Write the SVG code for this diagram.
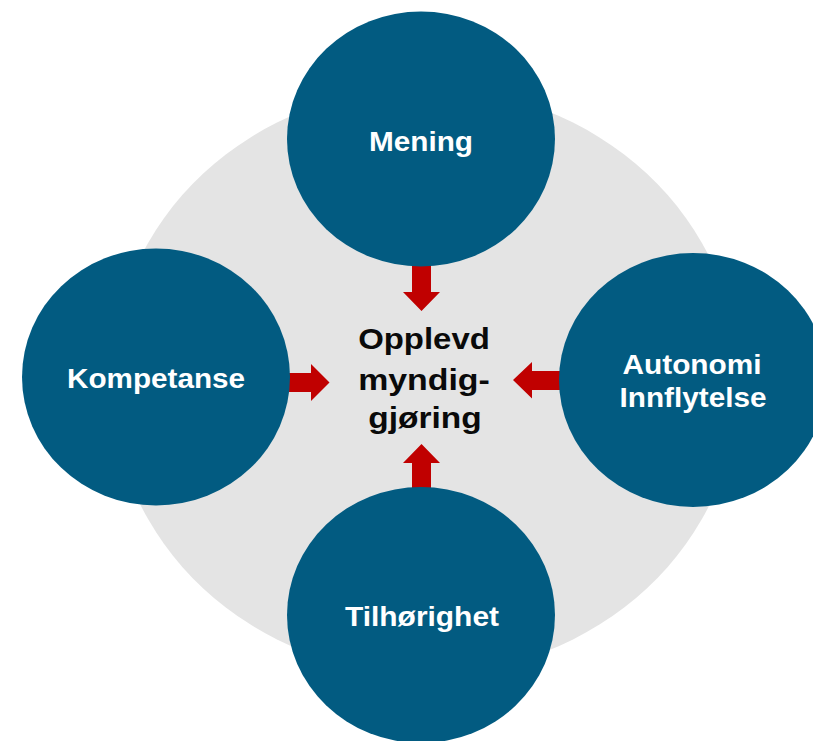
<svg xmlns="http://www.w3.org/2000/svg" width="813" height="741" viewBox="0 0 813 741">
  <style>
    .node { fill: #025B81; }
    .lbl { font-family: "Liberation Sans", Arial, sans-serif; font-weight: bold; font-size: 28px; fill: #FFFFFF; text-anchor: middle; }
    .ctr { font-family: "Liberation Sans", Arial, sans-serif; font-weight: bold; font-size: 30px; fill: #0A0A0A; text-anchor: middle; }
    .arrow { fill: #C00000; }
  </style>
  <rect x="0" y="0" width="813" height="741" fill="#FFFFFF"/>
  <g id="background">
    <ellipse cx="425" cy="381" rx="314" ry="293" fill="#E4E4E4"/>
  </g>
  <g id="connectors">
    <polygon class="arrow" points="412,262 431,262 431,292 440,292 421.5,311 403,292 412,292"/>
    <polygon class="arrow" points="286,373 311,373 311,364 329.5,382.5 311,401 311,392 286,392"/>
    <polygon class="arrow" points="563,371 532,371 532,362 513,380 532,398.5 532,390 563,390"/>
    <polygon class="arrow" points="412,492 412,463 403,463 421.5,444 440,463 431,463 431,492"/>
  </g>
  <g id="node-mening">
    <ellipse class="node" cx="421" cy="139" rx="134" ry="127.5"/>
    <text class="lbl" x="421" y="150.5" textLength="104" lengthAdjust="spacingAndGlyphs">Mening</text>
  </g>
  <g id="node-kompetanse">
    <ellipse class="node" cx="156" cy="377" rx="134" ry="128.5"/>
    <text class="lbl" x="156" y="388" textLength="178" lengthAdjust="spacingAndGlyphs">Kompetanse</text>
  </g>
  <g id="node-autonomi">
    <ellipse class="node" cx="693" cy="380" rx="134" ry="127"/>
    <text class="lbl" x="692" y="373.5" textLength="139" lengthAdjust="spacingAndGlyphs">Autonomi</text>
    <text class="lbl" x="693" y="406.5" textLength="147" lengthAdjust="spacingAndGlyphs">Innflytelse</text>
  </g>
  <g id="node-tilhorighet">
    <ellipse class="node" cx="421" cy="615" rx="134" ry="128"/>
    <text class="lbl" x="422" y="626" textLength="154" lengthAdjust="spacingAndGlyphs">Tilhørighet</text>
  </g>
  <g id="node-center">
    <text class="ctr" x="424" y="348.5" textLength="131.7" lengthAdjust="spacingAndGlyphs">Opplevd</text>
    <text class="ctr" x="424" y="390" textLength="131.7" lengthAdjust="spacingAndGlyphs">myndig-</text>
    <text class="ctr" x="425" y="427.5" textLength="113.4" lengthAdjust="spacingAndGlyphs">gjøring</text>
  </g>
</svg>
